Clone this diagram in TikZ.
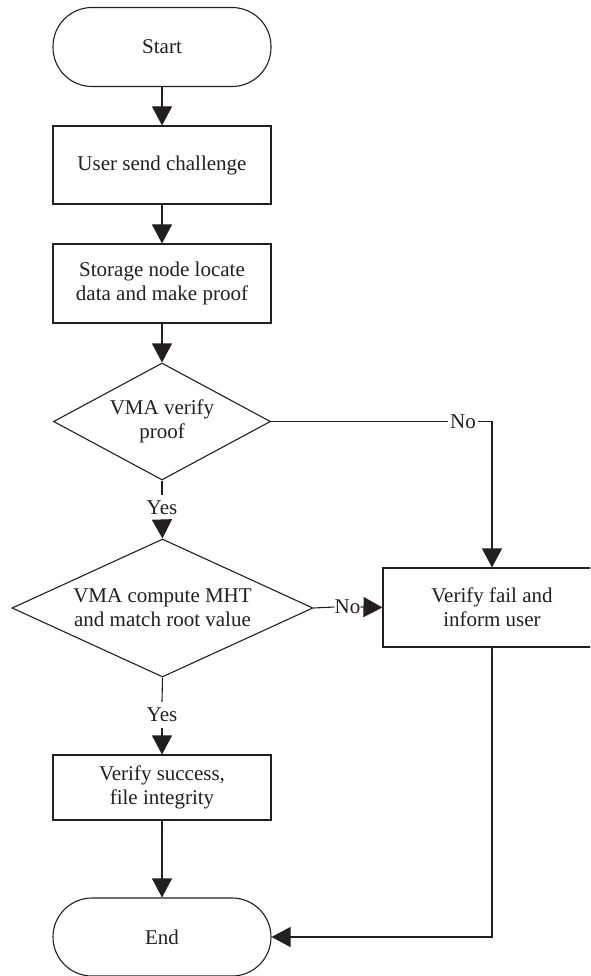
\documentclass[tikz,border=0pt]{standalone}
\usepackage{fontspec}
\setmainfont{Liberation Serif}
\usetikzlibrary{shapes.geometric,arrows.meta}
\definecolor{ink}{HTML}{231F20}
\begin{document}
\begin{tikzpicture}[x=1pt,y=-1pt,
  every node/.style={text=ink},
  txt/.style={font=\fontsize{21}{24}\selectfont},
  base/.style={txt, draw=ink, line width=1.1pt, align=center, inner sep=0pt},
  terminal/.style={base, rectangle, rounded corners=39pt, minimum width=218pt, minimum height=79pt},
  process/.style={base, rectangle, minimum width=218pt},
  decision/.style={base, diamond},
  lbl/.style={txt, inner xsep=2pt, inner ysep=6pt},
  link/.style={draw=ink, line width=1.1pt},
  flow/.style={link, -{Triangle[length=19pt,width=20pt]}}]
\useasboundingbox (0,0) rectangle (590,976);
\clip (0,0) rectangle (590,976);
\fill[white] (0,0) rectangle (590,976);

% main column
\node[terminal] (start) at (162,47) {Start};
\node[process, minimum height=78pt] (send) at (162,165) {User send challenge};
\node[process, minimum height=79pt] (locate) at (162,283.5) {Storage node locate\\data and make proof};
\node[decision, aspect=1.85, minimum width=217pt, minimum height=117pt] (vma1) at (162,421.5) {VMA verify\\proof};
\node[decision, aspect=2.2, minimum width=301pt, minimum height=138pt] (vma2) at (162.5,608) {VMA compute MHT\\and match root value};
\node[process, minimum height=65pt] (ok) at (162,787.5) {Verify success,\\file integrity};
\node[terminal, minimum height=78pt] (end) at (162,937) {End};

% failure branch
\node[process, minimum height=79pt] (fail) at (492,607.5) {Verify fail and\\inform user};

% branch labels
\node[lbl] (yes1) at (162,508) {Yes};
\node[lbl] (yes2) at (162,715) {Yes};
\node[lbl] (no1) at (463,421.5) {No};
\node[lbl, inner xsep=0pt] (no2) at (347.5,607) {No};

% connectors
\draw[flow] (start) -- (send);
\draw[flow] (send) -- (locate);
\draw[flow] (locate) -- (vma1);
\draw[link] (vma1.south) -- (yes1.north);
\draw[flow] (yes1.south) -- (vma2.north);
\draw[link] (vma2.south) -- (yes2.north);
\draw[flow] (yes2.south) -- (ok.north);
\draw[flow] (ok) -- (end);
\draw[link] (vma1.east) -- (no1.west);
\draw[flow] (no1.east) -| (fail.north);
\draw[link] (vma2.east) -- (no2.west);
\draw[flow] (no2.east) -- (fail.west);
\draw[flow] (fail.south) |- (end.east);
\end{tikzpicture}
\end{document}
